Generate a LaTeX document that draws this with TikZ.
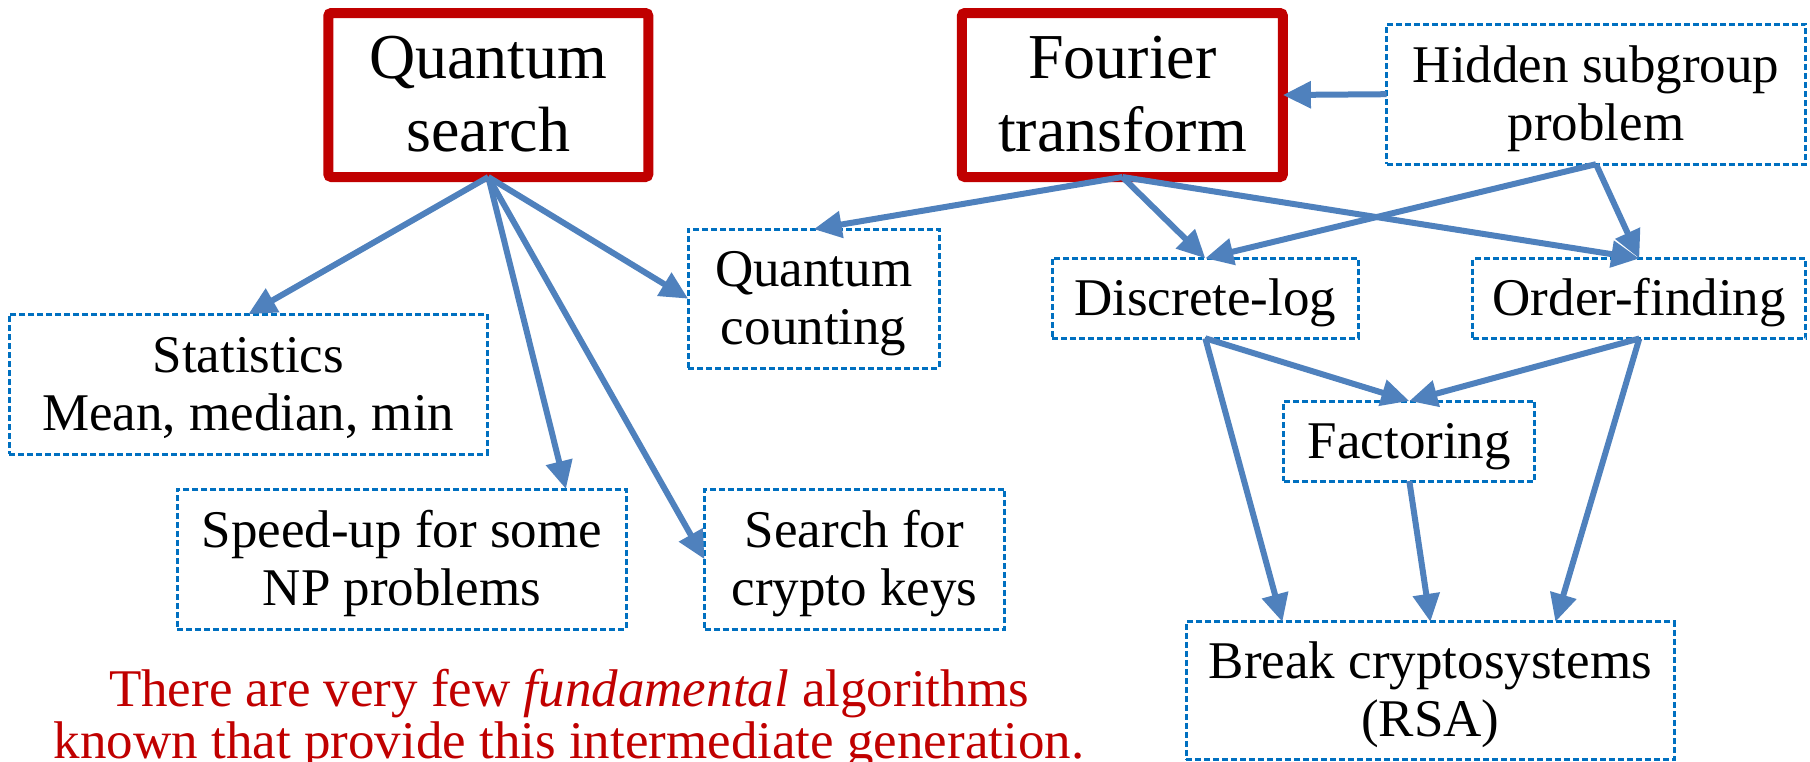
\documentclass[tikz,border=0pt]{standalone}
\usepackage{fontspec}
\setmainfont{Liberation Serif}
\usepackage{xcolor}
\usetikzlibrary{arrows.meta}

\definecolor{boxred}{HTML}{C00000}
\definecolor{linkblue}{HTML}{4F81BD}
\definecolor{dashblue}{HTML}{0070C0}

\begin{document}
\begin{tikzpicture}[x=1pt,y=-1pt,
    bigbox/.style={draw=boxred,line width=10pt,rounded corners=3pt,inner sep=0pt,outer sep=0pt,
      align=center,font=\fontsize{64}{73}\selectfont,text height=132pt,text depth=20pt},
    algbox/.style={draw=dashblue,line width=3pt,dash pattern=on 6pt off 3pt,inner sep=0pt,outer sep=0pt,
      align=center,font=\fontsize{53}{58}\selectfont,text height=112pt,text depth=20pt},
    onebox/.style={algbox,text height=40pt,text depth=6pt},
    link/.style={draw=linkblue,line width=6pt,-{Triangle[length=28pt,width=26pt]}}]
        \useasboundingbox (0,0) rectangle (1810,761);
        % main algorithms
        \node[bigbox,minimum width=320pt,minimum height=164pt] (qsearch) at (488.3,95) {Quantum\\search};
        \node[bigbox,minimum width=321pt,minimum height=164pt] (fourier) at (1122.4,95) {Fourier\\transform};
        % applications
        \node[algbox,minimum width=419pt,minimum height=140pt] (hidden) at (1596,94.2) {Hidden subgroup\\problem};
        \node[algbox,minimum width=251pt,minimum height=139pt] (qcount) at (813.7,298.7) {Quantum\\counting};
        \node[algbox,minimum width=478pt,minimum height=140pt] (stats) at (248.3,384.2) {Statistics\\Mean, median, min};
        \node[algbox,minimum width=449pt,minimum height=140pt] (speedup) at (401.9,559) {Speed-up for some\\NP problems};
        \node[algbox,minimum width=300pt,minimum height=140pt] (keys) at (854.5,559.2) {Search for\\crypto keys};
        \node[onebox,minimum width=306pt,minimum height=80pt] (dlog) at (1205.3,298.3) {Discrete-log};
        \node[onebox,minimum width=333pt,minimum height=80pt] (order) at (1639.3,298.5) {Order-finding};
        \node[onebox,minimum width=251pt,minimum height=80pt] (factor) at (1409.3,441) {Factoring};
        \node[algbox,minimum width=488pt,minimum height=138pt] (rsa) at (1430.4,690.9) {Break cryptosystems\\(RSA)};
        \node[text=boxred,align=center,inner sep=0pt,font=\fontsize{53}{52}\selectfont,text height=40pt,text depth=12pt]
            (note) at (569,744) {There are very few \textit{fundamental} algorithms\\known that provide this intermediate generation.};
        % connections
        \draw[link] (qsearch.south) -- (stats.north);
        \draw[link] (qsearch.south) -- ([xshift=164pt]speedup.north);
        \draw[link] (qsearch.south) -- (keys.west);
        \draw[link] (qsearch.south) -- (qcount.west);
        \draw[link] (fourier.south) -- (qcount.north);
        \draw[link] (fourier.south) -- (dlog.north);
        \draw[link] (fourier.south) -- (order.north);
        \draw[link] (hidden.west) -- (fourier.east);
        \draw[link] (hidden.south) -- (dlog.north);
        \draw[link] (hidden.south) -- (order.north);
        \draw[link] (dlog.south) -- (factor.north);
        \draw[link] (order.south) -- (factor.north);
        \draw[link] (dlog.south) -- ([xshift=-148pt]rsa.north);
        \draw[link] (factor.south) -- (rsa.north);
        \draw[link] (order.south) -- ([xshift=125pt]rsa.north);
    \end{tikzpicture}
\end{document}
